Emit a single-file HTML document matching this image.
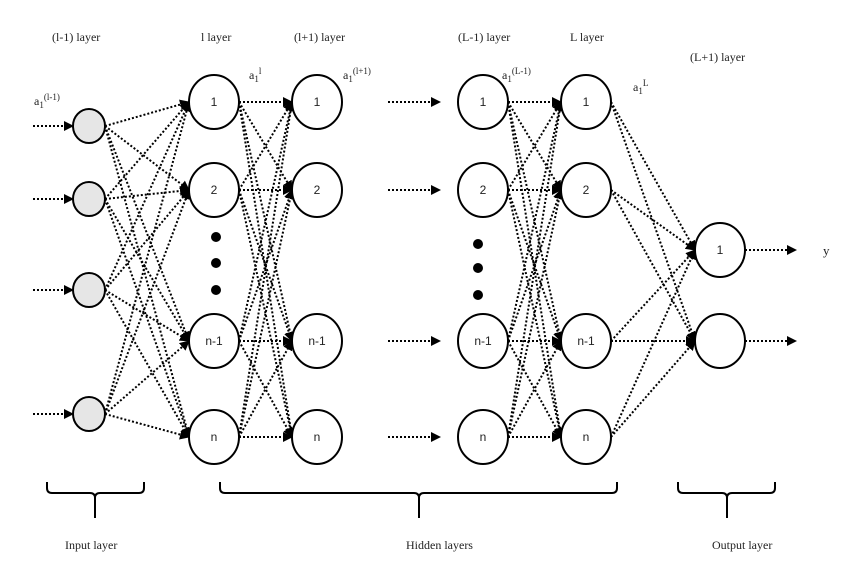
<!DOCTYPE html>
<html><head><meta charset="utf-8"><style>
html,body{margin:0;padding:0;background:#fff;}
svg{display:block;}
text{font-family:"Liberation Serif",serif;fill:#222;}
.n{font-family:"Liberation Sans",sans-serif;font-size:12px;}
</style></head><body>
<svg id="s" width="851" height="575" viewBox="0 0 851 575" xmlns="http://www.w3.org/2000/svg">
<defs><marker id="a" markerWidth="10" markerHeight="10" refX="9" refY="5" orient="auto" markerUnits="userSpaceOnUse"><path d="M0,0 L10,5 L0,10 z" fill="#000"/></marker></defs>
<g id="edges" stroke="#000" stroke-width="2" stroke-dasharray="2,2" fill="none"></g>
<g id="nodes"></g>
<g font-size="12">
<text x="52" y="41">(l-1) layer</text>
<text x="201" y="41">l layer</text>
<text x="294" y="41">(l+1) layer</text>
<text x="458" y="41">(L-1) layer</text>
<text x="570" y="41">L layer</text>
<text x="690" y="61">(L+1) layer</text>
<text x="34" y="105">a<tspan font-size="9" dy="3">1</tspan><tspan font-size="9" dy="-8">(l-1)</tspan></text>
<text x="249" y="79">a<tspan font-size="9" dy="3">1</tspan><tspan font-size="9" dy="-8">l</tspan></text>
<text x="343" y="79">a<tspan font-size="9" dy="3">1</tspan><tspan font-size="9" dy="-8">(l+1)</tspan></text>
<text x="502" y="79">a<tspan font-size="9" dy="3">1</tspan><tspan font-size="9" dy="-8">(L-1)</tspan></text>
<text x="633" y="91">a<tspan font-size="9" dy="3">1</tspan><tspan font-size="9" dy="-8">L</tspan></text>
<text x="823" y="255" font-family="Liberation Sans" font-size="13">y</text>
<text x="65" y="549">Input layer</text>
<text x="406" y="549">Hidden layers</text>
<text x="712" y="549">Output layer</text>
</g>
<g stroke="#000" stroke-width="2" fill="none">
<path d="M47,482 v6 q0,5 5,5 h38 q5,0 5,5 v20 M95,498 q0,-5 5,-5 h39 q5,0 5,-5 v-6"/>
<path d="M220,482 v6 q0,5 5,5 h189 q5,0 5,5 v20 M419,498 q0,-5 5,-5 h188 q5,0 5,-5 v-6"/>
<path d="M678,482 v6 q0,5 5,5 h39 q5,0 5,5 v20 M727,498 q0,-5 5,-5 h38 q5,0 5,-5 v-6"/>
</g>
</svg>
<script>
var NS="http://www.w3.org/2000/svg",E=document.getElementById('edges'),N=document.getElementById('nodes');
function line(x1,y1,x2,y2,arr){var l=document.createElementNS(NS,'line');l.setAttribute('x1',x1);l.setAttribute('y1',y1);l.setAttribute('x2',x2);l.setAttribute('y2',y2);if(arr)l.setAttribute('marker-end','url(#a)');E.appendChild(l);}
function node(cx,cy,rx,ry,fill,lab){var e=document.createElementNS(NS,'ellipse');e.setAttribute('cx',cx);e.setAttribute('cy',cy);e.setAttribute('rx',rx);e.setAttribute('ry',ry);e.setAttribute('fill',fill);e.setAttribute('stroke','#000');e.setAttribute('stroke-width','2');N.appendChild(e);if(lab){var t=document.createElementNS(NS,'text');t.setAttribute('x',cx);t.setAttribute('y',cy+4);t.setAttribute('text-anchor','middle');t.setAttribute('class','n');t.textContent=lab;N.appendChild(t);}}
function dot(cx,cy){var c=document.createElementNS(NS,'circle');c.setAttribute('cx',cx);c.setAttribute('cy',cy);c.setAttribute('r',5);N.appendChild(c);}
var inp=[126,199,290,414],hy=[102,190,341,437],labs=['1','2','n-1','n'];
var X=[214,317,483,586],R=25,RY=27,ox=720,oy=[250,341];
inp.forEach(function(y){line(33,y,73,y,1);hy.forEach(function(h){line(105,y,X[0]-R,h,1);});node(89,y,16,17,'#e6e6e6');});
[[0,1],[2,3]].forEach(function(p){hy.forEach(function(a){hy.forEach(function(b){line(X[p[0]]+R,a,X[p[1]]-R,b,1);});});});
hy.forEach(function(y){line(388,y,440,y,1);});
hy.forEach(function(a){oy.forEach(function(b){line(X[3]+R,a,ox-R,b,1);});});
oy.forEach(function(y){line(ox+R,y,796,y,1);});
X.forEach(function(x){hy.forEach(function(y,i){node(x,y,R,RY,'#fff',labs[i]);});});
node(ox,oy[0],R,RY,'#fff','1');node(ox,oy[1],R,RY,'#fff','');
[237,263,290].forEach(function(y){dot(216,y);});
[244,268,295].forEach(function(y){dot(478,y);});
</script>
</body></html>
